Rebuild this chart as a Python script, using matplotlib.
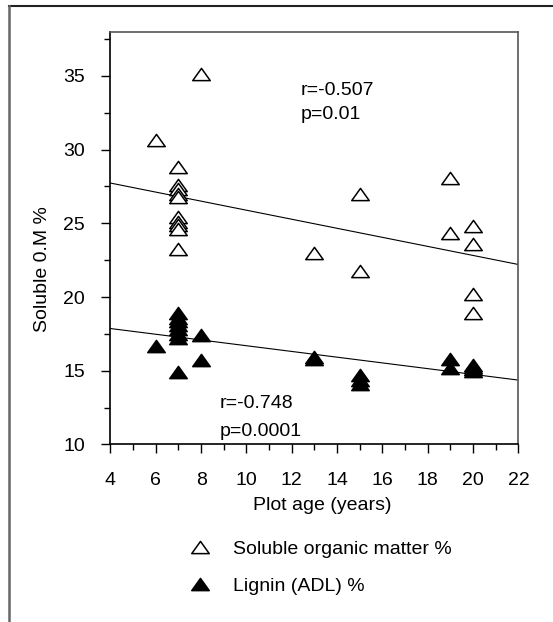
import matplotlib
matplotlib.use("Agg")
import matplotlib.pyplot as plt
from matplotlib.path import Path
from matplotlib.lines import Line2D
import numpy as np

plt.rcParams['font.family'] = ['Liberation Sans', 'DejaVu Sans']
plt.rcParams['font.size'] = 14

# Soluble organic matter (%) by plot age (years)
som_age = [6, 8, 7, 7, 7, 7, 7, 7, 7, 7, 7, 7,
           13, 15, 15, 19, 19, 20, 20, 20, 20]
som_pct = [30.65, 35.15, 28.8, 27.6, 27.3, 27.0, 26.8, 25.4, 25.1, 24.9, 24.6, 23.25,
           23.0, 27.0, 21.75, 28.05, 24.35, 24.8, 23.6, 20.2, 18.95]

# Lignin (ADL, %) by plot age (years)
lig_age = [6, 7, 7, 7, 7, 7, 7, 7, 7, 8, 8,
           13, 13, 15, 15, 15, 19, 19, 20, 20, 20, 20]
lig_pct = [16.65, 18.9, 18.6, 18.4, 18.1, 17.8, 17.5, 17.2, 14.9, 17.4, 15.7,
           15.95, 15.8, 14.7, 14.4, 14.1, 15.8, 15.2, 15.4, 15.25, 15.1, 15.0]

# Linear regression lines: (intercept, slope)
som_fit = (28.96, -0.307)
lig_fit = (18.64, -0.1944)

som_stats = ["r=-0.507", "p=0.01"]
lig_stats = ["r=-0.748", "p=0.0001"]

series_labels = ["Soluble organic matter %", "Lignin (ADL) %"]
x_ticks = list(range(4, 23, 2))
y_ticks = list(range(10, 36, 5))

# flattened triangle marker (wider than tall)
tri = Path([(-1, -0.7), (1, -0.7), (0, 0.7), (-1, -0.7)],
           [Path.MOVETO, Path.LINETO, Path.LINETO, Path.CLOSEPOLY])

fig = plt.figure(figsize=(5.53, 6.22), dpi=100)
ax = fig.add_axes([0.1998, 0.2855, 0.7378, 0.6635])

xs = np.array([4, 22])
for b0, b1 in (som_fit, lig_fit):
    ax.plot(xs, b0 + b1 * xs, color='black', lw=0.8, zorder=2)

ms = 12.6
ax.plot(som_age, som_pct, linestyle='none', marker=tri, markersize=ms,
        markerfacecolor='white', markeredgecolor='black', markeredgewidth=1.1,
        zorder=3, label=series_labels[0])
ax.plot(lig_age, lig_pct, linestyle='none', marker=tri, markersize=ms,
        markerfacecolor='black', markeredgecolor='black', markeredgewidth=1.1,
        zorder=3, label=series_labels[1])

ax.text(12.39, 33.72, som_stats[0], va='baseline', ha='left')
ax.text(12.39, 32.09, som_stats[1], va='baseline', ha='left')
ax.text(8.8, 12.45, lig_stats[0], va='baseline', ha='left')
ax.text(8.8, 10.59, lig_stats[1], va='baseline', ha='left')

ax.set_xlim(4, 22)
ax.set_ylim(10, 38)
ax.set_xticks(x_ticks)
ax.set_xticks(range(5, 23, 2), minor=True)
ax.set_yticks(y_ticks)
ax.set_yticks(np.arange(12.5, 38, 5), minor=True)
ax.tick_params(which='major', direction='out', length=6.5, width=1.0,
               labelsize=14)
ax.tick_params(axis='x', which='major', pad=13)
ax.tick_params(axis='y', which='major', pad=12)
ax.tick_params(which='minor', direction='out', length=4, width=1.0)

for side in ('left', 'bottom'):
    ax.spines[side].set_color('black')
    ax.spines[side].set_linewidth(1.2)
for side in ('top', 'right'):
    ax.spines[side].set_color('#555555')
    ax.spines[side].set_linewidth(1.2)

ax.set_xlabel("Plot age (years)", fontsize=14)
ax.xaxis.set_label_coords(0.518, -0.1275)
ax.set_ylabel("Soluble 0.M %", fontsize=14)
ax.yaxis.set_label_coords(-0.145, 0.425)

fig.legend(loc='upper left', bbox_to_anchor=(0.344, 0.1318),
           frameon=False, fontsize=14, borderpad=0, borderaxespad=0,
           handlelength=1.0, handletextpad=1.2, labelspacing=1.03,
           numpoints=1)

# outer frame (top and left edges)
fig.add_artist(Line2D([9 / 553, 1.0], [1 - 6 / 622, 1 - 6 / 622],
                      transform=fig.transFigure, color='#222222', lw=1.5))
fig.add_artist(Line2D([9 / 553, 9 / 553], [0.0, 1 - 6 / 622],
                      transform=fig.transFigure, color='#666666', lw=1.8))

fig.savefig("out.png", dpi=100)
